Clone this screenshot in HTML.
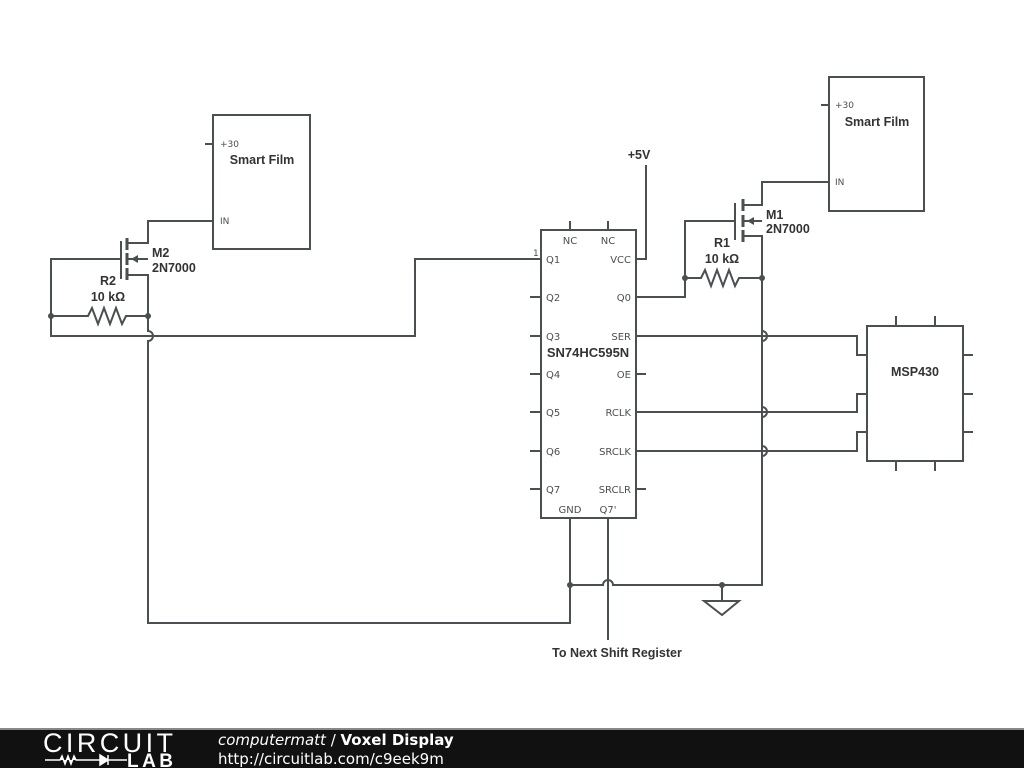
<!DOCTYPE html>
<html><head><meta charset="utf-8"><style>
body{margin:0;width:1024px;height:768px;background:#fff;overflow:hidden;font-family:"DejaVu Sans","Liberation Sans",sans-serif}
svg{position:absolute;left:0;top:0}
</style></head><body>
<svg width="1024" height="768" viewBox="0 0 1024 768">
<g fill="none" stroke="#4a4f52" stroke-width="2">
<rect x="541" y="230" width="95" height="288"/>
<path d="M570 221V230M608 221V230"/>
<path d="M530 297H541M530 336H541M530 374H541M530 412H541M530 451H541M530 489H541"/>
<path d="M636 374H646M636 489H646"/>
<path d="M541 259H415V336H51V259H121"/>
<path d="M121 241V279"/>
<path d="M127 238V250M127 253V265M127 268V280" stroke-width="3"/>
<path d="M127 243H148V221H213M127 259H148M127 275H148V316"/>
<path d="M51 316H88l4-8 6 16 6-16 6 16 6-16 6 16 4-8H148"/>
<path d="M148 316V331A5 5 0 0 1 148 341V623H570V518"/>
<path d="M570 585H603A5 5 0 0 1 613 585H762V278"/>
<path d="M608 518V640"/>
<path d="M722 585V601M704 601H739L722 615Z"/>
<path d="M735 203V240"/>
<path d="M743 199V211M743 215V227M743 230V242" stroke-width="3"/>
<path d="M743 205H762V182H829M743 221H762M743 236H762V278"/>
<path d="M636 297H685V221H735"/>
<path d="M685 278H701l4-8 6 16 6-16 6 16 6-16 6 16 4-8H762"/>
<path d="M646 165V259H636"/>
<path d="M636 336H857V355H867"/>
<path d="M636 412H857V394H867"/>
<path d="M636 451H857V432H867"/>
<path d="M762 278V331A5 5 0 0 1 762 341V407A5 5 0 0 1 762 417V446A5 5 0 0 1 762 456V585"/>
<rect x="867" y="326" width="96" height="135"/>
<path d="M896 316V326M935 316V326M896 461V471M935 461V471M963 355H973M963 394H973M963 432H973"/>
<rect x="213" y="115" width="97" height="134"/>
<path d="M205 144H213M205 221H213"/>
<rect x="829" y="77" width="95" height="134"/>
<path d="M821 105H829M821 182H829"/>
</g>
<g fill="#4a4f52">
<circle cx="51" cy="316" r="3"/><circle cx="148" cy="316" r="3"/>
<circle cx="685" cy="278" r="3"/><circle cx="762" cy="278" r="3"/>
<circle cx="570" cy="585" r="3"/><circle cx="722" cy="585" r="3"/>
<path d="M131 259l7-4v8z"/><path d="M747 221l7-4v8z"/>
</g>
<g fill="#4a4f52" font-size="10">
<text x="570" y="244" text-anchor="middle">NC</text><text x="608" y="244" text-anchor="middle">NC</text>
<text x="546" y="263">Q1</text><text x="546" y="301">Q2</text><text x="546" y="340">Q3</text><text x="546" y="378">Q4</text><text x="546" y="416">Q5</text><text x="546" y="455">Q6</text><text x="546" y="493">Q7</text>
<text x="631" y="263" text-anchor="end">VCC</text><text x="631" y="301" text-anchor="end">Q0</text><text x="631" y="340" text-anchor="end">SER</text><text x="631" y="378" text-anchor="end">OE</text><text x="631" y="416" text-anchor="end">RCLK</text><text x="631" y="455" text-anchor="end">SRCLK</text><text x="631" y="493" text-anchor="end">SRCLR</text>
<text x="570" y="513" text-anchor="middle">GND</text><text x="608" y="513" text-anchor="middle">Q7'</text>
<text x="533" y="256" font-size="9">1</text>
<text x="220" y="147" font-size="9">+30</text><text x="220" y="224" font-size="9">IN</text>
<text x="835" y="108" font-size="9">+30</text><text x="835" y="185" font-size="9">IN</text>
</g>
<g fill="#333" font-family="Liberation Sans, sans-serif" font-weight="bold" font-size="12.5">
<text x="588" y="357" text-anchor="middle" font-size="13">SN74HC595N</text>
<text x="915" y="376" text-anchor="middle">MSP430</text>
<text x="262" y="164" text-anchor="middle">Smart Film</text>
<text x="877" y="126" text-anchor="middle">Smart Film</text>
<text x="639" y="159" text-anchor="middle">+5V</text>
<text x="152" y="257">M2</text><text x="152" y="272">2N7000</text>
<text x="108" y="285" text-anchor="middle">R2</text><text x="108" y="301" text-anchor="middle">10 kΩ</text>
<text x="766" y="219">M1</text><text x="766" y="233">2N7000</text>
<text x="722" y="247" text-anchor="middle">R1</text><text x="722" y="263" text-anchor="middle">10 kΩ</text>
<text x="617" y="657" text-anchor="middle">To Next Shift Register</text>
</g>
<rect x="0" y="729" width="1024" height="39" fill="#111"/>
<rect x="0" y="728" width="1024" height="2" fill="#888"/>
<text x="43" y="752" fill="#fff" font-family="Liberation Sans, sans-serif" font-size="27" textLength="130" style="font-weight:100">CIRCUIT</text>
<path d="M45 760H60l2-4 3 8 3-8 3 8 3-8 2 4H100M100 755v10l8-5z M108 755v10 M108 760H127" stroke="#fff" stroke-width="1.5" fill="#fff"/>
<text x="127" y="767" fill="#fff" font-family="Liberation Sans, sans-serif" font-weight="bold" font-size="19" textLength="46">LAB</text>
<text x="218" y="745" fill="#fff" font-size="15"><tspan font-style="italic">computermatt</tspan> / <tspan font-weight="bold">Voxel Display</tspan></text>
<text x="218" y="764" fill="#fff" font-size="15">http://circuitlab.com/c9eek9m</text>
</svg>
</body></html>
